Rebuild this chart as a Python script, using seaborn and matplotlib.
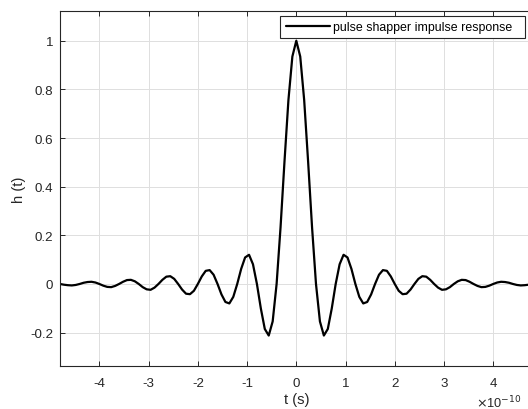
"""
plot.py - pulse shaper impulse response, redrawn with seaborn.

Writes out.png (528x410 px).
"""

import numpy as np
import pandas as pd
import matplotlib
matplotlib.use("Agg")
import matplotlib.pyplot as plt
import seaborn as sns

# sample times, in units of 1e-10 s
T_SAMPLES = [
    -4.80, -4.72, -4.64, -4.56, -4.48, -4.40, -4.32, -4.24, -4.16, -4.08,
    -4.00, -3.92, -3.84, -3.76, -3.68, -3.60, -3.52, -3.44, -3.36, -3.28,
    -3.20, -3.12, -3.04, -2.96, -2.88, -2.80, -2.72, -2.64, -2.56, -2.48,
    -2.40, -2.32, -2.24, -2.16, -2.08, -2.00, -1.92, -1.84, -1.76, -1.68,
    -1.60, -1.52, -1.44, -1.36, -1.28, -1.20, -1.12, -1.04, -0.96, -0.88,
    -0.80, -0.72, -0.64, -0.56, -0.48, -0.40, -0.32, -0.24, -0.16, -0.08,
    0.00,
    0.08, 0.16, 0.24, 0.32, 0.40, 0.48, 0.56, 0.64, 0.72, 0.80,
    0.88, 0.96, 1.04, 1.12, 1.20, 1.28, 1.36, 1.44, 1.52, 1.60,
    1.68, 1.76, 1.84, 1.92, 2.00, 2.08, 2.16, 2.24, 2.32, 2.40,
    2.48, 2.56, 2.64, 2.72, 2.80, 2.88, 2.96, 3.04, 3.12, 3.20,
    3.28, 3.36, 3.44, 3.52, 3.60, 3.68, 3.76, 3.84, 3.92, 4.00,
    4.08, 4.16, 4.24, 4.32, 4.40, 4.48, 4.56, 4.64, 4.72, 4.80,
]

# impulse response
H_VALUES = [
    0.0, -0.003, -0.005, -0.006, -0.004, 0.0, 0.005, 0.008, 0.009, 0.006,
    0.0, -0.007, -0.012, -0.013, -0.008, 0.0, 0.009, 0.016, 0.017, 0.011,
    0.0, -0.013, -0.022, -0.024, -0.015, 0.0, 0.017, 0.030, 0.032, 0.021,
    0.0, -0.023, -0.040, -0.042, -0.028, 0.0, 0.031, 0.054, 0.057, 0.038,
    0.0, -0.043, -0.074, -0.080, -0.053, 0.0, 0.062, 0.109, 0.120, 0.081,
    0.0, -0.101, -0.185, -0.212, -0.154, 0.0, 0.233, 0.503, 0.756, 0.935,
    1.0,
    0.935, 0.756, 0.503, 0.233, 0.0, -0.154, -0.212, -0.185, -0.101, 0.0,
    0.081, 0.120, 0.109, 0.062, 0.0, -0.053, -0.080, -0.074, -0.043, 0.0,
    0.038, 0.057, 0.054, 0.031, 0.0, -0.028, -0.042, -0.040, -0.023, 0.0,
    0.021, 0.032, 0.030, 0.017, 0.0, -0.015, -0.024, -0.022, -0.013, 0.0,
    0.011, 0.017, 0.016, 0.009, 0.0, -0.008, -0.013, -0.012, -0.007, 0.0,
    0.006, 0.009, 0.008, 0.005, 0.0, -0.004, -0.006, -0.005, -0.003, 0.0,
]

X_TICKS = [-4, -3, -2, -1, 0, 1, 2, 3, 4]
Y_TICKS = [-0.2, 0, 0.2, 0.4, 0.6, 0.8, 1]
Y_TICK_LABELS = ["-0.2", "0", "0.2", "0.4", "0.6", "0.8", "1"]
LEGEND_LABEL = "pulse shapper impulse response  "

INK = "#262626"
GRID = "#dfdfdf"

sns.set_theme(style="whitegrid")
plt.rcParams["font.family"] = ["Liberation Sans", "DejaVu Sans"]
plt.rcParams["axes.unicode_minus"] = False

df = pd.DataFrame({"t": T_SAMPLES, "h": H_VALUES})

fig = plt.figure(figsize=(5.28, 4.10), dpi=100)
ax = fig.add_axes([60 / 528, 1 - 366.7 / 410, 472.6 / 528, 354.4 / 410])

sns.lineplot(data=df, x="t", y="h", color="black", linewidth=1.6,
             sort=False, label=LEGEND_LABEL, ax=ax)

ax.set_xlim(-4.8, 4.8)
ax.set_ylim(-0.336, 1.121)
ax.set_xticks(X_TICKS)
ax.set_xticklabels([str(v) for v in X_TICKS])
ax.set_yticks(Y_TICKS)
ax.set_yticklabels(Y_TICK_LABELS)

ax.set_facecolor("white")
ax.grid(True, color=GRID, linewidth=0.7)
for side in ["top", "right", "bottom", "left"]:
    ax.spines[side].set_visible(True)
    ax.spines[side].set_color(INK)
    ax.spines[side].set_linewidth(0.8)
ax.tick_params(direction="in", length=3.6, width=0.7, color=INK,
               labelcolor=INK, labelsize=9.6, top=True, right=True,
               bottom=True, left=True)
ax.tick_params(axis="x", pad=8)
ax.tick_params(axis="y", pad=5)

ax.set_xlabel("t (s)", fontsize=10.6, color=INK, labelpad=2)
ax.set_ylabel("h (t)", fontsize=10.6, color=INK, labelpad=3)

# MATLAB-style exponent under the axis (axis end is cropped in the reference)
fig.text(476 / 528, 1 - 403 / 410, r"$\times$10$^{-10}$", fontsize=9.2,
         color=INK, ha="left", va="center")

leg = ax.legend(loc="upper right", bbox_to_anchor=(524.7 / 528, 1 - 16.7 / 410),
                bbox_transform=fig.transFigure, borderaxespad=0,
                fontsize=8.9, frameon=True, fancybox=False, framealpha=1,
                handlelength=3.6, handletextpad=0.25, borderpad=0.42)
leg.get_frame().set_edgecolor(INK)
leg.get_frame().set_linewidth(0.8)
for txt in leg.get_texts():
    txt.set_color("black")

fig.savefig("out.png", dpi=100)
